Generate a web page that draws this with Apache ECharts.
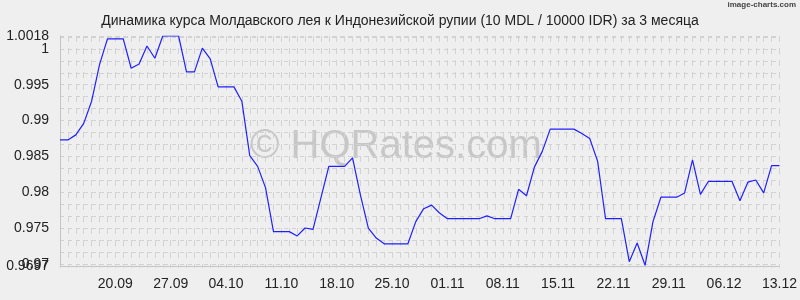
<!DOCTYPE html>
<html>
<head>
<meta charset="utf-8">
<script src="https://cdn.jsdelivr.net/npm/echarts@6/dist/echarts.min.js"></script>
<style>
html,body{margin:0;padding:0;background:#efefef;}
#chart{width:800px;height:300px;}
</style>
</head>
<body>
<div id="chart"></div>
<script>
// 92 consecutive days: 13.09 .. 13.12
const startDay = 13, startMonth = 9, dayCount = 92;
const monthLengths = {9: 30, 10: 31, 11: 30, 12: 31};
const categories = [];
(function () {
  let d = startDay, m = startMonth;
  for (let i = 0; i < dayCount; i++) {
    categories.push(String(d).padStart(2, '0') + '.' + String(m).padStart(2, '0'));
    d++;
    if (d > monthLengths[m]) { d = 1; m++; }
  }
})();

const rates = [
  0.9873, 0.9873, 0.9880, 0.9896, 0.9927, 0.9978, 1.0014, 1.0014, 1.0014, 0.9973,
  0.9979, 1.0004, 0.9987, 1.0018, 1.0018, 1.0018, 0.9968, 0.9968, 1.0001, 0.9986,
  0.9947, 0.9947, 0.9947, 0.9927, 0.9851, 0.9836, 0.9806, 0.9745, 0.9745, 0.9745,
  0.9739, 0.9750, 0.9748, 0.9792, 0.9836, 0.9836, 0.9836, 0.9848, 0.9796, 0.9750,
  0.9736, 0.9728, 0.9728, 0.9728, 0.9728, 0.9759, 0.9777, 0.9782, 0.9771, 0.9763,
  0.9763, 0.9763, 0.9763, 0.9763, 0.9767, 0.9763, 0.9763, 0.9763, 0.9804, 0.9795,
  0.9835, 0.9857, 0.9888, 0.9888, 0.9888, 0.9888, 0.9882, 0.9875, 0.9843, 0.9763,
  0.9763, 0.9763, 0.9703, 0.9729, 0.9698, 0.9759, 0.9793, 0.9793, 0.9793, 0.9799,
  0.9845, 0.9797, 0.9815, 0.9815, 0.9815, 0.9815, 0.9788, 0.9814, 0.9817, 0.9799,
  0.9837, 0.9837
];

const yMin = 0.9697, yMax = 1.0018;
const yLabelValues = [0.97, 0.975, 0.98, 0.985, 0.99, 0.995, 1];
const yEndLabelValues = [0.9697, 1.0018];
const titleText = 'Динамика курса Молдавского лея к Индонезийской рупии (10 MDL / 10000 IDR) за 3 месяца';
const watermarkText = '© HQRates.com';
const brandText = 'image-charts.com';

const chart = echarts.init(document.getElementById('chart'), null, {renderer: 'canvas'});
const font = '"Liberation Sans", Arial, sans-serif';
const gridColor = '#d2d2d2';
chart.setOption({
  backgroundColor: '#efefef',
  animation: false,
  textStyle: {fontFamily: font},
  title: {
    text: titleText,
    left: 'center',
    top: 9,
    textStyle: {fontSize: 14, fontWeight: 'normal', color: '#222', fontFamily: font}
  },
  graphic: [
    {
      type: 'text', left: 250, top: 127, z: 0, silent: true,
      style: {text: watermarkText, fontSize: 40, fontFamily: font, fill: 'rgba(160,160,160,0.5)'}
    },
    {
      type: 'text', right: 4, top: 1, silent: true,
      style: {text: brandText, fontSize: 8, fontWeight: 'bold', fontFamily: font, fill: '#444'}
    }
  ],
  grid: {left: 60, right: 20, top: 36, bottom: 34, containLabel: false},
  xAxis: {
    type: 'category',
    data: categories,
    boundaryGap: false,
    axisLine: {show: true, lineStyle: {color: '#c4c4c4', width: 1}},
    axisTick: {show: true, interval: 0, length: 4, lineStyle: {color: '#d4d4d4', type: [2, 2]}},
    axisLabel: {
      interval: function (i) { return i > 0 && i % 7 === 0; },
      fontSize: 14, color: '#222', margin: 11, fontFamily: font
    },
    splitLine: {show: true, interval: 0, lineStyle: {color: gridColor, type: [6, 6], width: 1}}
  },
  yAxis: [
    {
      type: 'value',
      min: yMin,
      max: yMax,
      splitNumber: 6,
      axisLine: {show: true, lineStyle: {color: '#c4c4c4'}},
      axisTick: {show: false},
      axisLabel: {
        fontSize: 14, color: '#222', margin: 11, fontFamily: font,
        hideOverlap: false,
        customValues: yLabelValues
      },
      splitLine: {show: true, lineStyle: {color: gridColor, type: [4, 4], width: 1}},
      minorTick: {show: true, splitNumber: 3, length: 0, lineStyle: {opacity: 0}},
      minorSplitLine: {show: true, lineStyle: {color: gridColor, type: [4, 4], width: 1}}
    },
    {
      type: 'value',
      position: 'left',
      min: yMin,
      max: yMax,
      axisLine: {show: false},
      axisTick: {show: false},
      splitLine: {show: false},
      axisLabel: {
        fontSize: 14, color: '#222', margin: 11, fontFamily: font,
        hideOverlap: false,
        showMinLabel: true,
        showMaxLabel: true,
        customValues: yEndLabelValues
      }
    }
  ],
  series: [{
    type: 'line',
    data: rates,
    yAxisIndex: 0,
    symbol: 'none',
    z: 5,
    lineStyle: {color: '#2020ff', width: 1.2}
  }]
});
</script>
</body>
</html>
